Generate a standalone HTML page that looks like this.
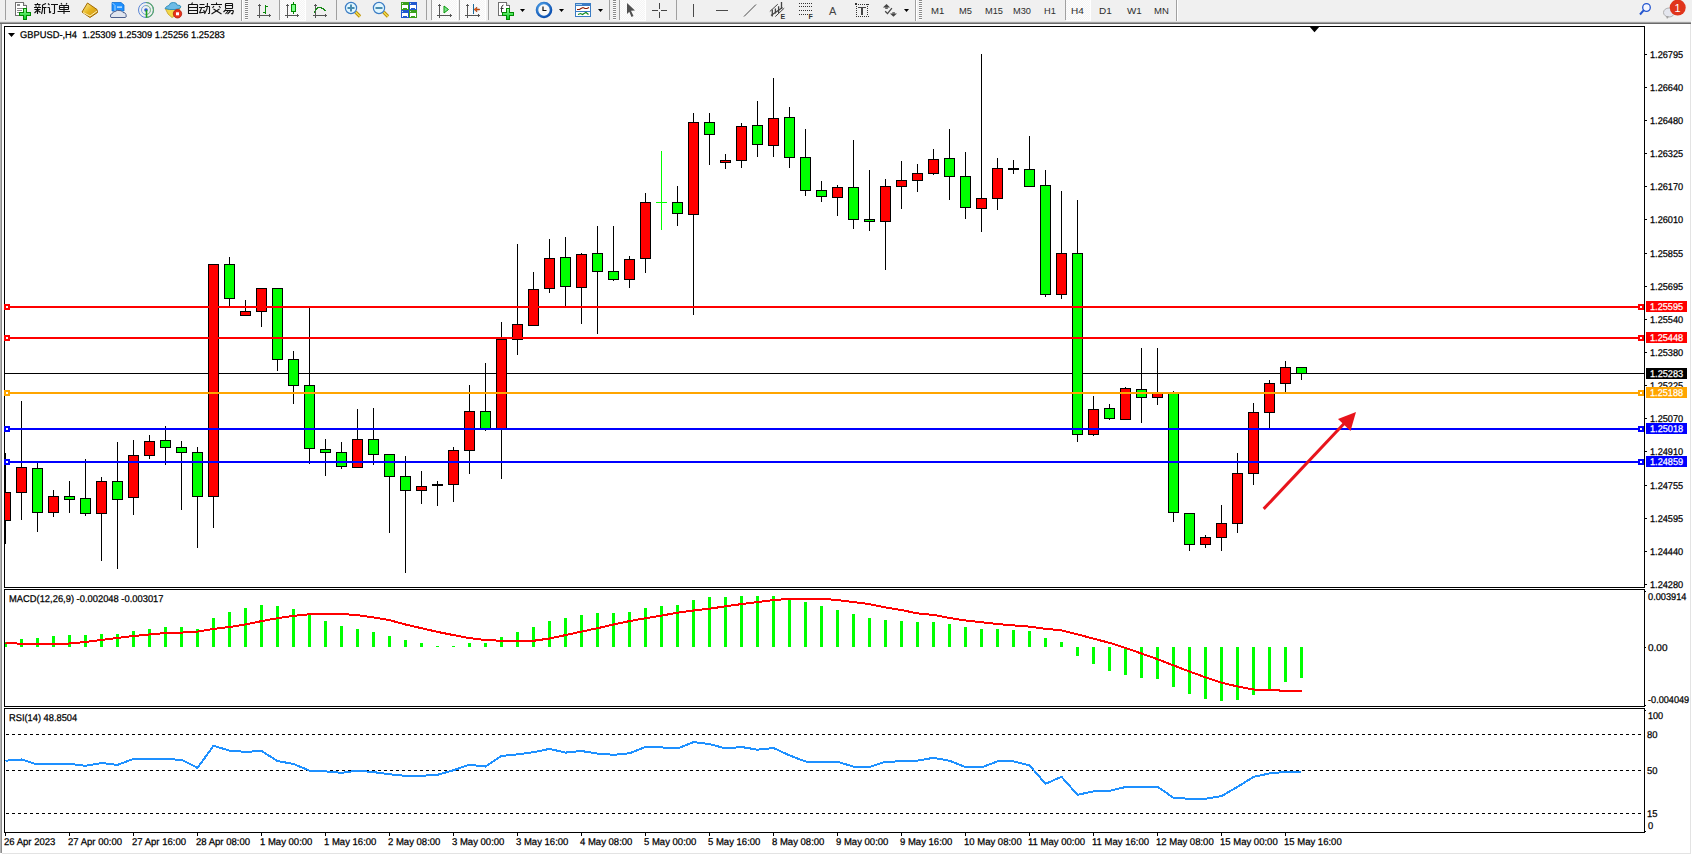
<!DOCTYPE html>
<html><head><meta charset="utf-8"><title>MT4 GBPUSD H4</title>
<style>
html,body{margin:0;padding:0;background:#fff;overflow:hidden}
#root{position:relative;width:1692px;height:855px;overflow:hidden;background:#fff;font-family:"Liberation Sans", sans-serif}
svg text{font-family:"Liberation Sans", sans-serif}
</style></head><body><div id="root">
<svg width="1692" height="855" viewBox="0 0 1692 855" style="position:absolute;left:0;top:0" shape-rendering="crispEdges">
<defs><clipPath id="cm"><rect x="5" y="27" width="1639" height="560"/></clipPath><clipPath id="cmacd"><rect x="5" y="590" width="1639" height="116"/></clipPath><clipPath id="crsi"><rect x="5" y="709" width="1639" height="123"/></clipPath></defs>
<rect x="0" y="24" width="1" height="829" fill="#b4b4b4"/>
<rect x="1" y="24" width="1" height="829" fill="#8c8c8c"/>
<rect x="2" y="853" width="1689" height="1" fill="#e3e3e3"/>
<rect x="1690" y="24" width="1" height="830" fill="#e3e3e3"/>
<rect x="4" y="26" width="1641" height="1" fill="#000"/>
<rect x="4" y="587" width="1641" height="1" fill="#000"/>
<rect x="4" y="26" width="1" height="562" fill="#000"/>
<rect x="1644" y="26" width="1" height="562" fill="#000"/>
<rect x="4" y="589" width="1641" height="1" fill="#000"/>
<rect x="4" y="706" width="1641" height="1" fill="#000"/>
<rect x="4" y="589" width="1" height="118" fill="#000"/>
<rect x="1644" y="589" width="1" height="118" fill="#000"/>
<rect x="4" y="708" width="1641" height="1" fill="#000"/>
<rect x="4" y="832" width="1641" height="1" fill="#000"/>
<rect x="4" y="708" width="1" height="125" fill="#000"/>
<rect x="1644" y="708" width="1" height="125" fill="#000"/>
<g clip-path="url(#cm)">
<rect x="5" y="373" width="1639" height="1" fill="#000"/>
<rect x="5" y="453" width="1" height="91" fill="#000"/>
<rect x="0" y="492" width="11" height="29" fill="#000"/>
<rect x="1" y="493" width="9" height="27" fill="#ff0000"/>
<rect x="21" y="401" width="1" height="119" fill="#000"/>
<rect x="16" y="467" width="11" height="26" fill="#000"/>
<rect x="17" y="468" width="9" height="24" fill="#ff0000"/>
<rect x="37" y="463" width="1" height="69" fill="#000"/>
<rect x="32" y="468" width="11" height="45" fill="#000"/>
<rect x="33" y="469" width="9" height="43" fill="#00ff00"/>
<rect x="53" y="490" width="1" height="27" fill="#000"/>
<rect x="48" y="496" width="11" height="17" fill="#000"/>
<rect x="49" y="497" width="9" height="15" fill="#ff0000"/>
<rect x="69" y="481" width="1" height="32" fill="#000"/>
<rect x="64" y="496" width="11" height="4" fill="#000"/>
<rect x="65" y="497" width="9" height="2" fill="#00ff00"/>
<rect x="85" y="459" width="1" height="57" fill="#000"/>
<rect x="80" y="498" width="11" height="16" fill="#000"/>
<rect x="81" y="499" width="9" height="14" fill="#00ff00"/>
<rect x="101" y="477" width="1" height="84" fill="#000"/>
<rect x="96" y="481" width="11" height="33" fill="#000"/>
<rect x="97" y="482" width="9" height="31" fill="#ff0000"/>
<rect x="117" y="442" width="1" height="127" fill="#000"/>
<rect x="112" y="481" width="11" height="19" fill="#000"/>
<rect x="113" y="482" width="9" height="17" fill="#00ff00"/>
<rect x="133" y="440" width="1" height="75" fill="#000"/>
<rect x="128" y="455" width="11" height="43" fill="#000"/>
<rect x="129" y="456" width="9" height="41" fill="#ff0000"/>
<rect x="149" y="435" width="1" height="24" fill="#000"/>
<rect x="144" y="441" width="11" height="15" fill="#000"/>
<rect x="145" y="442" width="9" height="13" fill="#ff0000"/>
<rect x="165" y="426" width="1" height="39" fill="#000"/>
<rect x="160" y="440" width="11" height="8" fill="#000"/>
<rect x="161" y="441" width="9" height="6" fill="#00ff00"/>
<rect x="181" y="441" width="1" height="69" fill="#000"/>
<rect x="176" y="447" width="11" height="6" fill="#000"/>
<rect x="177" y="448" width="9" height="4" fill="#00ff00"/>
<rect x="197" y="447" width="1" height="101" fill="#000"/>
<rect x="192" y="452" width="11" height="45" fill="#000"/>
<rect x="193" y="453" width="9" height="43" fill="#00ff00"/>
<rect x="213" y="264" width="1" height="264" fill="#000"/>
<rect x="208" y="264" width="11" height="233" fill="#000"/>
<rect x="209" y="265" width="9" height="231" fill="#ff0000"/>
<rect x="229" y="257" width="1" height="50" fill="#000"/>
<rect x="224" y="264" width="11" height="35" fill="#000"/>
<rect x="225" y="265" width="9" height="33" fill="#00ff00"/>
<rect x="245" y="300" width="1" height="16" fill="#000"/>
<rect x="240" y="311" width="11" height="5" fill="#000"/>
<rect x="241" y="312" width="9" height="3" fill="#ff0000"/>
<rect x="261" y="288" width="1" height="39" fill="#000"/>
<rect x="256" y="288" width="11" height="24" fill="#000"/>
<rect x="257" y="289" width="9" height="22" fill="#ff0000"/>
<rect x="277" y="288" width="1" height="83" fill="#000"/>
<rect x="272" y="288" width="11" height="72" fill="#000"/>
<rect x="273" y="289" width="9" height="70" fill="#00ff00"/>
<rect x="293" y="351" width="1" height="53" fill="#000"/>
<rect x="288" y="359" width="11" height="27" fill="#000"/>
<rect x="289" y="360" width="9" height="25" fill="#00ff00"/>
<rect x="309" y="308" width="1" height="156" fill="#000"/>
<rect x="304" y="385" width="11" height="64" fill="#000"/>
<rect x="305" y="386" width="9" height="62" fill="#00ff00"/>
<rect x="325" y="439" width="1" height="37" fill="#000"/>
<rect x="320" y="449" width="11" height="4" fill="#000"/>
<rect x="321" y="450" width="9" height="2" fill="#00ff00"/>
<rect x="341" y="442" width="1" height="27" fill="#000"/>
<rect x="336" y="452" width="11" height="15" fill="#000"/>
<rect x="337" y="453" width="9" height="13" fill="#00ff00"/>
<rect x="357" y="409" width="1" height="59" fill="#000"/>
<rect x="352" y="439" width="11" height="29" fill="#000"/>
<rect x="353" y="440" width="9" height="27" fill="#ff0000"/>
<rect x="373" y="408" width="1" height="57" fill="#000"/>
<rect x="368" y="439" width="11" height="16" fill="#000"/>
<rect x="369" y="440" width="9" height="14" fill="#00ff00"/>
<rect x="389" y="454" width="1" height="79" fill="#000"/>
<rect x="384" y="454" width="11" height="23" fill="#000"/>
<rect x="385" y="455" width="9" height="21" fill="#00ff00"/>
<rect x="405" y="456" width="1" height="117" fill="#000"/>
<rect x="400" y="476" width="11" height="15" fill="#000"/>
<rect x="401" y="477" width="9" height="13" fill="#00ff00"/>
<rect x="421" y="471" width="1" height="33" fill="#000"/>
<rect x="416" y="486" width="11" height="5" fill="#000"/>
<rect x="417" y="487" width="9" height="3" fill="#ff0000"/>
<rect x="437" y="481" width="1" height="25" fill="#000"/>
<rect x="432" y="484" width="11" height="2" fill="#000"/>
<rect x="453" y="447" width="1" height="55" fill="#000"/>
<rect x="448" y="450" width="11" height="35" fill="#000"/>
<rect x="449" y="451" width="9" height="33" fill="#ff0000"/>
<rect x="469" y="385" width="1" height="89" fill="#000"/>
<rect x="464" y="411" width="11" height="40" fill="#000"/>
<rect x="465" y="412" width="9" height="38" fill="#ff0000"/>
<rect x="485" y="363" width="1" height="68" fill="#000"/>
<rect x="480" y="411" width="11" height="18" fill="#000"/>
<rect x="481" y="412" width="9" height="16" fill="#00ff00"/>
<rect x="501" y="322" width="1" height="157" fill="#000"/>
<rect x="496" y="339" width="11" height="90" fill="#000"/>
<rect x="497" y="340" width="9" height="88" fill="#ff0000"/>
<rect x="517" y="244" width="1" height="111" fill="#000"/>
<rect x="512" y="324" width="11" height="16" fill="#000"/>
<rect x="513" y="325" width="9" height="14" fill="#ff0000"/>
<rect x="533" y="272" width="1" height="54" fill="#000"/>
<rect x="528" y="289" width="11" height="37" fill="#000"/>
<rect x="529" y="290" width="9" height="35" fill="#ff0000"/>
<rect x="549" y="239" width="1" height="54" fill="#000"/>
<rect x="544" y="258" width="11" height="31" fill="#000"/>
<rect x="545" y="259" width="9" height="29" fill="#ff0000"/>
<rect x="565" y="237" width="1" height="70" fill="#000"/>
<rect x="560" y="257" width="11" height="30" fill="#000"/>
<rect x="561" y="258" width="9" height="28" fill="#00ff00"/>
<rect x="581" y="253" width="1" height="71" fill="#000"/>
<rect x="576" y="254" width="11" height="34" fill="#000"/>
<rect x="577" y="255" width="9" height="32" fill="#ff0000"/>
<rect x="597" y="226" width="1" height="108" fill="#000"/>
<rect x="592" y="253" width="11" height="19" fill="#000"/>
<rect x="593" y="254" width="9" height="17" fill="#00ff00"/>
<rect x="613" y="226" width="1" height="55" fill="#000"/>
<rect x="608" y="271" width="11" height="9" fill="#000"/>
<rect x="609" y="272" width="9" height="7" fill="#00ff00"/>
<rect x="629" y="256" width="1" height="32" fill="#000"/>
<rect x="624" y="259" width="11" height="21" fill="#000"/>
<rect x="625" y="260" width="9" height="19" fill="#ff0000"/>
<rect x="645" y="193" width="1" height="80" fill="#000"/>
<rect x="640" y="202" width="11" height="57" fill="#000"/>
<rect x="641" y="203" width="9" height="55" fill="#ff0000"/>
<rect x="661" y="151" width="1" height="79" fill="#00ff00"/>
<rect x="656" y="202" width="11" height="1" fill="#00ff00"/>
<rect x="677" y="186" width="1" height="40" fill="#000"/>
<rect x="672" y="202" width="11" height="12" fill="#000"/>
<rect x="673" y="203" width="9" height="10" fill="#00ff00"/>
<rect x="693" y="113" width="1" height="202" fill="#000"/>
<rect x="688" y="122" width="11" height="93" fill="#000"/>
<rect x="689" y="123" width="9" height="91" fill="#ff0000"/>
<rect x="709" y="113" width="1" height="52" fill="#000"/>
<rect x="704" y="122" width="11" height="13" fill="#000"/>
<rect x="705" y="123" width="9" height="11" fill="#00ff00"/>
<rect x="725" y="154" width="1" height="15" fill="#000"/>
<rect x="720" y="160" width="11" height="3" fill="#000"/>
<rect x="721" y="161" width="9" height="1" fill="#ff0000"/>
<rect x="741" y="123" width="1" height="45" fill="#000"/>
<rect x="736" y="126" width="11" height="35" fill="#000"/>
<rect x="737" y="127" width="9" height="33" fill="#ff0000"/>
<rect x="757" y="101" width="1" height="56" fill="#000"/>
<rect x="752" y="125" width="11" height="20" fill="#000"/>
<rect x="753" y="126" width="9" height="18" fill="#00ff00"/>
<rect x="773" y="78" width="1" height="79" fill="#000"/>
<rect x="768" y="118" width="11" height="28" fill="#000"/>
<rect x="769" y="119" width="9" height="26" fill="#ff0000"/>
<rect x="789" y="107" width="1" height="61" fill="#000"/>
<rect x="784" y="117" width="11" height="41" fill="#000"/>
<rect x="785" y="118" width="9" height="39" fill="#00ff00"/>
<rect x="805" y="129" width="1" height="67" fill="#000"/>
<rect x="800" y="157" width="11" height="34" fill="#000"/>
<rect x="801" y="158" width="9" height="32" fill="#00ff00"/>
<rect x="821" y="181" width="1" height="21" fill="#000"/>
<rect x="816" y="190" width="11" height="7" fill="#000"/>
<rect x="817" y="191" width="9" height="5" fill="#00ff00"/>
<rect x="837" y="185" width="1" height="31" fill="#000"/>
<rect x="832" y="187" width="11" height="11" fill="#000"/>
<rect x="833" y="188" width="9" height="9" fill="#ff0000"/>
<rect x="853" y="140" width="1" height="89" fill="#000"/>
<rect x="848" y="187" width="11" height="33" fill="#000"/>
<rect x="849" y="188" width="9" height="31" fill="#00ff00"/>
<rect x="869" y="170" width="1" height="61" fill="#000"/>
<rect x="864" y="219" width="11" height="3" fill="#000"/>
<rect x="865" y="220" width="9" height="1" fill="#00ff00"/>
<rect x="885" y="179" width="1" height="91" fill="#000"/>
<rect x="880" y="186" width="11" height="36" fill="#000"/>
<rect x="881" y="187" width="9" height="34" fill="#ff0000"/>
<rect x="901" y="161" width="1" height="48" fill="#000"/>
<rect x="896" y="180" width="11" height="7" fill="#000"/>
<rect x="897" y="181" width="9" height="5" fill="#ff0000"/>
<rect x="917" y="164" width="1" height="28" fill="#000"/>
<rect x="912" y="173" width="11" height="8" fill="#000"/>
<rect x="913" y="174" width="9" height="6" fill="#ff0000"/>
<rect x="933" y="149" width="1" height="26" fill="#000"/>
<rect x="928" y="159" width="11" height="15" fill="#000"/>
<rect x="929" y="160" width="9" height="13" fill="#ff0000"/>
<rect x="949" y="129" width="1" height="71" fill="#000"/>
<rect x="944" y="158" width="11" height="19" fill="#000"/>
<rect x="945" y="159" width="9" height="17" fill="#00ff00"/>
<rect x="965" y="152" width="1" height="67" fill="#000"/>
<rect x="960" y="176" width="11" height="32" fill="#000"/>
<rect x="961" y="177" width="9" height="30" fill="#00ff00"/>
<rect x="981" y="54" width="1" height="178" fill="#000"/>
<rect x="976" y="198" width="11" height="11" fill="#000"/>
<rect x="977" y="199" width="9" height="9" fill="#ff0000"/>
<rect x="997" y="158" width="1" height="52" fill="#000"/>
<rect x="992" y="168" width="11" height="31" fill="#000"/>
<rect x="993" y="169" width="9" height="29" fill="#ff0000"/>
<rect x="1013" y="160" width="1" height="14" fill="#000"/>
<rect x="1008" y="168" width="11" height="2" fill="#000"/>
<rect x="1029" y="136" width="1" height="51" fill="#000"/>
<rect x="1024" y="169" width="11" height="18" fill="#000"/>
<rect x="1025" y="170" width="9" height="16" fill="#00ff00"/>
<rect x="1045" y="170" width="1" height="127" fill="#000"/>
<rect x="1040" y="185" width="11" height="110" fill="#000"/>
<rect x="1041" y="186" width="9" height="108" fill="#00ff00"/>
<rect x="1061" y="191" width="1" height="108" fill="#000"/>
<rect x="1056" y="253" width="11" height="42" fill="#000"/>
<rect x="1057" y="254" width="9" height="40" fill="#ff0000"/>
<rect x="1077" y="200" width="1" height="242" fill="#000"/>
<rect x="1072" y="253" width="11" height="182" fill="#000"/>
<rect x="1073" y="254" width="9" height="180" fill="#00ff00"/>
<rect x="1093" y="396" width="1" height="40" fill="#000"/>
<rect x="1088" y="409" width="11" height="26" fill="#000"/>
<rect x="1089" y="410" width="9" height="24" fill="#ff0000"/>
<rect x="1109" y="404" width="1" height="16" fill="#000"/>
<rect x="1104" y="408" width="11" height="11" fill="#000"/>
<rect x="1105" y="409" width="9" height="9" fill="#00ff00"/>
<rect x="1125" y="387" width="1" height="33" fill="#000"/>
<rect x="1120" y="388" width="11" height="32" fill="#000"/>
<rect x="1121" y="389" width="9" height="30" fill="#ff0000"/>
<rect x="1141" y="348" width="1" height="75" fill="#000"/>
<rect x="1136" y="389" width="11" height="9" fill="#000"/>
<rect x="1137" y="390" width="9" height="7" fill="#00ff00"/>
<rect x="1157" y="348" width="1" height="57" fill="#000"/>
<rect x="1152" y="392" width="11" height="6" fill="#000"/>
<rect x="1153" y="393" width="9" height="4" fill="#ff0000"/>
<rect x="1173" y="391" width="1" height="131" fill="#000"/>
<rect x="1168" y="393" width="11" height="120" fill="#000"/>
<rect x="1169" y="394" width="9" height="118" fill="#00ff00"/>
<rect x="1189" y="513" width="1" height="38" fill="#000"/>
<rect x="1184" y="513" width="11" height="32" fill="#000"/>
<rect x="1185" y="514" width="9" height="30" fill="#00ff00"/>
<rect x="1205" y="535" width="1" height="13" fill="#000"/>
<rect x="1200" y="537" width="11" height="8" fill="#000"/>
<rect x="1201" y="538" width="9" height="6" fill="#ff0000"/>
<rect x="1221" y="505" width="1" height="46" fill="#000"/>
<rect x="1216" y="523" width="11" height="15" fill="#000"/>
<rect x="1217" y="524" width="9" height="13" fill="#ff0000"/>
<rect x="1237" y="453" width="1" height="80" fill="#000"/>
<rect x="1232" y="473" width="11" height="51" fill="#000"/>
<rect x="1233" y="474" width="9" height="49" fill="#ff0000"/>
<rect x="1253" y="403" width="1" height="82" fill="#000"/>
<rect x="1248" y="412" width="11" height="62" fill="#000"/>
<rect x="1249" y="413" width="9" height="60" fill="#ff0000"/>
<rect x="1269" y="380" width="1" height="49" fill="#000"/>
<rect x="1264" y="383" width="11" height="30" fill="#000"/>
<rect x="1265" y="384" width="9" height="28" fill="#ff0000"/>
<rect x="1285" y="361" width="1" height="32" fill="#000"/>
<rect x="1280" y="367" width="11" height="17" fill="#000"/>
<rect x="1281" y="368" width="9" height="15" fill="#ff0000"/>
<rect x="1301" y="367" width="1" height="13" fill="#000"/>
<rect x="1296" y="367" width="11" height="7" fill="#000"/>
<rect x="1297" y="368" width="9" height="5" fill="#00ff00"/>
</g>
<rect x="5" y="306" width="1639" height="2" fill="#ff0000"/>
<rect x="4" y="304" width="6" height="6" fill="#ff0000"/>
<rect x="6" y="306" width="2" height="2" fill="#fff"/>
<rect x="1638" y="304" width="6" height="6" fill="#ff0000"/>
<rect x="1640" y="306" width="2" height="2" fill="#fff"/>
<rect x="5" y="337" width="1639" height="2" fill="#ff0000"/>
<rect x="4" y="335" width="6" height="6" fill="#ff0000"/>
<rect x="6" y="337" width="2" height="2" fill="#fff"/>
<rect x="1638" y="335" width="6" height="6" fill="#ff0000"/>
<rect x="1640" y="337" width="2" height="2" fill="#fff"/>
<rect x="5" y="392" width="1639" height="2" fill="#ffa500"/>
<rect x="4" y="390" width="6" height="6" fill="#ffa500"/>
<rect x="6" y="392" width="2" height="2" fill="#fff"/>
<rect x="1638" y="390" width="6" height="6" fill="#ffa500"/>
<rect x="1640" y="392" width="2" height="2" fill="#fff"/>
<rect x="5" y="428" width="1639" height="2" fill="#0000ff"/>
<rect x="4" y="426" width="6" height="6" fill="#0000ff"/>
<rect x="6" y="428" width="2" height="2" fill="#fff"/>
<rect x="1638" y="426" width="6" height="6" fill="#0000ff"/>
<rect x="1640" y="428" width="2" height="2" fill="#fff"/>
<rect x="5" y="461" width="1639" height="2" fill="#0000ff"/>
<rect x="4" y="459" width="6" height="6" fill="#0000ff"/>
<rect x="6" y="461" width="2" height="2" fill="#fff"/>
<rect x="1638" y="459" width="6" height="6" fill="#0000ff"/>
<rect x="1640" y="461" width="2" height="2" fill="#fff"/>
<polygon points="1309,26 1320,26 1314.5,32.2" fill="#000" shape-rendering="auto"/>
<g shape-rendering="auto"><line x1="1263.7" y1="508.9" x2="1346" y2="421.5" stroke="#e8141c" stroke-width="3"/><polygon points="1356,412 1338,419 1350.5,431" fill="#e8141c"/></g>
<g clip-path="url(#cmacd)">
<rect x="4" y="642" width="3" height="5" fill="#00ff00"/>
<rect x="20" y="639" width="3" height="8" fill="#00ff00"/>
<rect x="36" y="638" width="3" height="9" fill="#00ff00"/>
<rect x="52" y="636" width="3" height="11" fill="#00ff00"/>
<rect x="68" y="635" width="3" height="12" fill="#00ff00"/>
<rect x="84" y="635" width="3" height="12" fill="#00ff00"/>
<rect x="100" y="634" width="3" height="13" fill="#00ff00"/>
<rect x="116" y="634" width="3" height="13" fill="#00ff00"/>
<rect x="132" y="631" width="3" height="16" fill="#00ff00"/>
<rect x="148" y="629" width="3" height="18" fill="#00ff00"/>
<rect x="164" y="627" width="3" height="20" fill="#00ff00"/>
<rect x="180" y="627" width="3" height="20" fill="#00ff00"/>
<rect x="196" y="629" width="3" height="18" fill="#00ff00"/>
<rect x="212" y="618" width="3" height="29" fill="#00ff00"/>
<rect x="228" y="612" width="3" height="35" fill="#00ff00"/>
<rect x="244" y="608" width="3" height="39" fill="#00ff00"/>
<rect x="260" y="605" width="3" height="42" fill="#00ff00"/>
<rect x="276" y="606" width="3" height="41" fill="#00ff00"/>
<rect x="292" y="609" width="3" height="38" fill="#00ff00"/>
<rect x="308" y="615" width="3" height="32" fill="#00ff00"/>
<rect x="324" y="621" width="3" height="26" fill="#00ff00"/>
<rect x="340" y="626" width="3" height="21" fill="#00ff00"/>
<rect x="356" y="629" width="3" height="18" fill="#00ff00"/>
<rect x="372" y="632" width="3" height="15" fill="#00ff00"/>
<rect x="388" y="636" width="3" height="11" fill="#00ff00"/>
<rect x="404" y="640" width="3" height="7" fill="#00ff00"/>
<rect x="420" y="643" width="3" height="4" fill="#00ff00"/>
<rect x="436" y="646" width="3" height="1" fill="#00ff00"/>
<rect x="452" y="646" width="3" height="1" fill="#00ff00"/>
<rect x="468" y="643" width="3" height="4" fill="#00ff00"/>
<rect x="484" y="643" width="3" height="4" fill="#00ff00"/>
<rect x="500" y="637" width="3" height="10" fill="#00ff00"/>
<rect x="516" y="632" width="3" height="15" fill="#00ff00"/>
<rect x="532" y="627" width="3" height="20" fill="#00ff00"/>
<rect x="548" y="621" width="3" height="26" fill="#00ff00"/>
<rect x="564" y="618" width="3" height="29" fill="#00ff00"/>
<rect x="580" y="615" width="3" height="32" fill="#00ff00"/>
<rect x="596" y="613" width="3" height="34" fill="#00ff00"/>
<rect x="612" y="613" width="3" height="34" fill="#00ff00"/>
<rect x="628" y="612" width="3" height="35" fill="#00ff00"/>
<rect x="644" y="608" width="3" height="39" fill="#00ff00"/>
<rect x="660" y="606" width="3" height="41" fill="#00ff00"/>
<rect x="676" y="605" width="3" height="42" fill="#00ff00"/>
<rect x="692" y="600" width="3" height="47" fill="#00ff00"/>
<rect x="708" y="597" width="3" height="50" fill="#00ff00"/>
<rect x="724" y="597" width="3" height="50" fill="#00ff00"/>
<rect x="740" y="596" width="3" height="51" fill="#00ff00"/>
<rect x="756" y="596" width="3" height="51" fill="#00ff00"/>
<rect x="772" y="596" width="3" height="51" fill="#00ff00"/>
<rect x="788" y="598" width="3" height="49" fill="#00ff00"/>
<rect x="804" y="602" width="3" height="45" fill="#00ff00"/>
<rect x="820" y="606" width="3" height="41" fill="#00ff00"/>
<rect x="836" y="610" width="3" height="37" fill="#00ff00"/>
<rect x="852" y="614" width="3" height="33" fill="#00ff00"/>
<rect x="868" y="618" width="3" height="29" fill="#00ff00"/>
<rect x="884" y="620" width="3" height="27" fill="#00ff00"/>
<rect x="900" y="621" width="3" height="26" fill="#00ff00"/>
<rect x="916" y="622" width="3" height="25" fill="#00ff00"/>
<rect x="932" y="622" width="3" height="25" fill="#00ff00"/>
<rect x="948" y="624" width="3" height="23" fill="#00ff00"/>
<rect x="964" y="627" width="3" height="20" fill="#00ff00"/>
<rect x="980" y="629" width="3" height="18" fill="#00ff00"/>
<rect x="996" y="629" width="3" height="18" fill="#00ff00"/>
<rect x="1012" y="630" width="3" height="17" fill="#00ff00"/>
<rect x="1028" y="631" width="3" height="16" fill="#00ff00"/>
<rect x="1044" y="638" width="3" height="9" fill="#00ff00"/>
<rect x="1060" y="642" width="3" height="5" fill="#00ff00"/>
<rect x="1076" y="647" width="3" height="9" fill="#00ff00"/>
<rect x="1092" y="647" width="3" height="17" fill="#00ff00"/>
<rect x="1108" y="647" width="3" height="24" fill="#00ff00"/>
<rect x="1124" y="647" width="3" height="28" fill="#00ff00"/>
<rect x="1140" y="647" width="3" height="31" fill="#00ff00"/>
<rect x="1156" y="647" width="3" height="32" fill="#00ff00"/>
<rect x="1172" y="647" width="3" height="40" fill="#00ff00"/>
<rect x="1188" y="647" width="3" height="47" fill="#00ff00"/>
<rect x="1204" y="647" width="3" height="52" fill="#00ff00"/>
<rect x="1220" y="647" width="3" height="54" fill="#00ff00"/>
<rect x="1236" y="647" width="3" height="53" fill="#00ff00"/>
<rect x="1252" y="647" width="3" height="48" fill="#00ff00"/>
<rect x="1268" y="647" width="3" height="42" fill="#00ff00"/>
<rect x="1284" y="647" width="3" height="35" fill="#00ff00"/>
<rect x="1300" y="647" width="3" height="31" fill="#00ff00"/>
<polyline points="5.5,643 21.5,643.7 37.5,644 53.5,644 69.5,643.5 85.5,642 101.5,640 117.5,638 133.5,636 149.5,634.5 165.5,633 181.5,632.6 197.5,631.6 213.5,629 229.5,627 245.5,624.5 261.5,621.1 277.5,618.2 293.5,615.9 309.5,614.2 325.5,613.9 341.5,613.9 357.5,615.2 373.5,617.4 389.5,620.1 405.5,624.5 421.5,628.2 437.5,631.9 453.5,635.1 469.5,638.1 485.5,640 501.5,640.8 517.5,640.8 533.5,640.8 549.5,638.5 565.5,635.1 581.5,631.6 597.5,628.2 613.5,624.5 629.5,621.1 645.5,618.2 661.5,615.6 677.5,612.7 693.5,610.5 709.5,608.7 725.5,606.3 741.5,604.1 757.5,602 773.5,600.1 789.5,598.9 805.5,598.6 821.5,598.6 837.5,600.1 853.5,602 869.5,604.1 885.5,607.5 901.5,610 917.5,613.4 933.5,614.9 949.5,617.9 965.5,620.5 981.5,622.2 997.5,624 1013.5,625.4 1029.5,626.6 1045.5,628.8 1061.5,630.3 1077.5,634.3 1093.5,638.7 1109.5,642.8 1125.5,648 1141.5,653.5 1157.5,659.2 1173.5,665.4 1189.5,671.5 1205.5,677.3 1221.5,682.7 1237.5,686.4 1253.5,689.5 1269.5,690.2 1285.5,690.7 1301.5,690.7" fill="none" stroke="#ff0000" stroke-width="2"/>
</g>
<g clip-path="url(#crsi)">
<line x1="6" y1="734.5" x2="1642" y2="734.5" stroke="#000" stroke-width="1" stroke-dasharray="3 3"/>
<line x1="6" y1="770.5" x2="1642" y2="770.5" stroke="#000" stroke-width="1" stroke-dasharray="3 3"/>
<line x1="6" y1="813.5" x2="1642" y2="813.5" stroke="#000" stroke-width="1" stroke-dasharray="3 3"/>
<polyline points="5.5,760.7 21.5,759.5 37.5,764.5 53.5,763.8 69.5,763.8 85.5,765.8 101.5,763 117.5,764.9 133.5,758.9 149.5,758.9 165.5,759.2 181.5,759.7 197.5,767.9 213.5,745.8 229.5,750.6 245.5,751.9 261.5,751 277.5,761 293.5,764 309.5,770.6 325.5,771.4 341.5,772.8 357.5,770.6 373.5,772.1 389.5,774.3 405.5,775.8 421.5,775.8 437.5,774.8 453.5,770.2 469.5,764.7 485.5,766.6 501.5,755.9 517.5,754.4 533.5,752.2 549.5,748.9 565.5,752.6 581.5,751 597.5,753.6 613.5,754.8 629.5,753.3 645.5,747 661.5,747.4 677.5,748.5 693.5,742.1 709.5,744 725.5,748.5 741.5,747 757.5,749.7 773.5,748 789.5,755.4 805.5,761.5 821.5,761.8 837.5,761.8 853.5,766.6 869.5,766.9 885.5,761.8 901.5,761.3 917.5,760.6 933.5,757.8 949.5,760.7 965.5,767.2 981.5,767.5 997.5,761.3 1013.5,761.3 1029.5,765.3 1045.5,783.8 1061.5,776.8 1077.5,794.8 1093.5,791.4 1109.5,790.9 1125.5,787 1141.5,787 1157.5,786.7 1173.5,797.8 1189.5,798.8 1205.5,798.8 1221.5,796.1 1237.5,786.9 1253.5,776.9 1269.5,773.4 1285.5,771.9 1301.5,772" fill="none" stroke="#1e90ff" stroke-width="2"/>
</g>
<rect x="1645" y="54" width="2" height="1" fill="#000"/>
<rect x="1645" y="87" width="2" height="1" fill="#000"/>
<rect x="1645" y="120" width="2" height="1" fill="#000"/>
<rect x="1645" y="153" width="2" height="1" fill="#000"/>
<rect x="1645" y="186" width="2" height="1" fill="#000"/>
<rect x="1645" y="219" width="2" height="1" fill="#000"/>
<rect x="1645" y="253" width="2" height="1" fill="#000"/>
<rect x="1645" y="286" width="2" height="1" fill="#000"/>
<rect x="1645" y="319" width="2" height="1" fill="#000"/>
<rect x="1645" y="352" width="2" height="1" fill="#000"/>
<rect x="1645" y="385" width="2" height="1" fill="#000"/>
<rect x="1645" y="418" width="2" height="1" fill="#000"/>
<rect x="1645" y="451" width="2" height="1" fill="#000"/>
<rect x="1645" y="485" width="2" height="1" fill="#000"/>
<rect x="1645" y="518" width="2" height="1" fill="#000"/>
<rect x="1645" y="551" width="2" height="1" fill="#000"/>
<rect x="1645" y="584" width="2" height="1" fill="#000"/>
<rect x="1645" y="591" width="1" height="1" fill="#000"/>
<rect x="1645" y="647" width="1" height="1" fill="#000"/>
<rect x="1645" y="705" width="1" height="1" fill="#000"/>
<rect x="1645" y="710" width="1" height="1" fill="#000"/><rect x="1645" y="831" width="1" height="1" fill="#000"/>
<rect x="5" y="833" width="1" height="3" fill="#000"/>
<rect x="69" y="833" width="1" height="3" fill="#000"/>
<rect x="133" y="833" width="1" height="3" fill="#000"/>
<rect x="197" y="833" width="1" height="3" fill="#000"/>
<rect x="261" y="833" width="1" height="3" fill="#000"/>
<rect x="325" y="833" width="1" height="3" fill="#000"/>
<rect x="389" y="833" width="1" height="3" fill="#000"/>
<rect x="453" y="833" width="1" height="3" fill="#000"/>
<rect x="517" y="833" width="1" height="3" fill="#000"/>
<rect x="581" y="833" width="1" height="3" fill="#000"/>
<rect x="645" y="833" width="1" height="3" fill="#000"/>
<rect x="709" y="833" width="1" height="3" fill="#000"/>
<rect x="773" y="833" width="1" height="3" fill="#000"/>
<rect x="837" y="833" width="1" height="3" fill="#000"/>
<rect x="901" y="833" width="1" height="3" fill="#000"/>
<rect x="965" y="833" width="1" height="3" fill="#000"/>
<rect x="1029" y="833" width="1" height="3" fill="#000"/>
<rect x="1093" y="833" width="1" height="3" fill="#000"/>
<rect x="1157" y="833" width="1" height="3" fill="#000"/>
<rect x="1221" y="833" width="1" height="3" fill="#000"/>
<rect x="1285" y="833" width="1" height="3" fill="#000"/>
<svg width="1692" height="855" style="position:absolute;left:0;top:0" font-family='"Liberation Sans", sans-serif'><text x="1650" y="58" fill="#000" stroke="#000" stroke-width="0.25" font-size="9.8" text-rendering="geometricPrecision" textLength="33.2" lengthAdjust="spacingAndGlyphs" >1.26795</text><text x="1650" y="91" fill="#000" stroke="#000" stroke-width="0.25" font-size="9.8" text-rendering="geometricPrecision" textLength="33.2" lengthAdjust="spacingAndGlyphs" >1.26640</text><text x="1650" y="124" fill="#000" stroke="#000" stroke-width="0.25" font-size="9.8" text-rendering="geometricPrecision" textLength="33.2" lengthAdjust="spacingAndGlyphs" >1.26480</text><text x="1650" y="157" fill="#000" stroke="#000" stroke-width="0.25" font-size="9.8" text-rendering="geometricPrecision" textLength="33.2" lengthAdjust="spacingAndGlyphs" >1.26325</text><text x="1650" y="190" fill="#000" stroke="#000" stroke-width="0.25" font-size="9.8" text-rendering="geometricPrecision" textLength="33.2" lengthAdjust="spacingAndGlyphs" >1.26170</text><text x="1650" y="223" fill="#000" stroke="#000" stroke-width="0.25" font-size="9.8" text-rendering="geometricPrecision" textLength="33.2" lengthAdjust="spacingAndGlyphs" >1.26010</text><text x="1650" y="257" fill="#000" stroke="#000" stroke-width="0.25" font-size="9.8" text-rendering="geometricPrecision" textLength="33.2" lengthAdjust="spacingAndGlyphs" >1.25855</text><text x="1650" y="290" fill="#000" stroke="#000" stroke-width="0.25" font-size="9.8" text-rendering="geometricPrecision" textLength="33.2" lengthAdjust="spacingAndGlyphs" >1.25695</text><text x="1650" y="323" fill="#000" stroke="#000" stroke-width="0.25" font-size="9.8" text-rendering="geometricPrecision" textLength="33.2" lengthAdjust="spacingAndGlyphs" >1.25540</text><text x="1650" y="356" fill="#000" stroke="#000" stroke-width="0.25" font-size="9.8" text-rendering="geometricPrecision" textLength="33.2" lengthAdjust="spacingAndGlyphs" >1.25380</text><text x="1650" y="389" fill="#000" stroke="#000" stroke-width="0.25" font-size="9.8" text-rendering="geometricPrecision" textLength="33.2" lengthAdjust="spacingAndGlyphs" >1.25225</text><text x="1650" y="422" fill="#000" stroke="#000" stroke-width="0.25" font-size="9.8" text-rendering="geometricPrecision" textLength="33.2" lengthAdjust="spacingAndGlyphs" >1.25070</text><text x="1650" y="455" fill="#000" stroke="#000" stroke-width="0.25" font-size="9.8" text-rendering="geometricPrecision" textLength="33.2" lengthAdjust="spacingAndGlyphs" >1.24910</text><text x="1650" y="489" fill="#000" stroke="#000" stroke-width="0.25" font-size="9.8" text-rendering="geometricPrecision" textLength="33.2" lengthAdjust="spacingAndGlyphs" >1.24755</text><text x="1650" y="522" fill="#000" stroke="#000" stroke-width="0.25" font-size="9.8" text-rendering="geometricPrecision" textLength="33.2" lengthAdjust="spacingAndGlyphs" >1.24595</text><text x="1650" y="555" fill="#000" stroke="#000" stroke-width="0.25" font-size="9.8" text-rendering="geometricPrecision" textLength="33.2" lengthAdjust="spacingAndGlyphs" >1.24440</text><text x="1650" y="588" fill="#000" stroke="#000" stroke-width="0.25" font-size="9.8" text-rendering="geometricPrecision" textLength="33.2" lengthAdjust="spacingAndGlyphs" >1.24280</text><rect x="1646" y="301" width="41" height="11" fill="#ff0000"/><rect x="1646" y="332" width="41" height="11" fill="#ff0000"/><rect x="1646" y="368" width="41" height="11" fill="#000"/><rect x="1646" y="387" width="41" height="11" fill="#ffa500"/><rect x="1646" y="423" width="41" height="11" fill="#0000ff"/><rect x="1646" y="456" width="41" height="11" fill="#0000ff"/><text x="1650" y="310" fill="#fff" stroke="#fff" stroke-width="0.25" font-size="9.8" text-rendering="geometricPrecision" textLength="33.2" lengthAdjust="spacingAndGlyphs" >1.25595</text><text x="1650" y="341" fill="#fff" stroke="#fff" stroke-width="0.25" font-size="9.8" text-rendering="geometricPrecision" textLength="33.2" lengthAdjust="spacingAndGlyphs" >1.25448</text><text x="1650" y="377" fill="#fff" stroke="#fff" stroke-width="0.25" font-size="9.8" text-rendering="geometricPrecision" textLength="33.2" lengthAdjust="spacingAndGlyphs" >1.25283</text><text x="1650" y="396" fill="#fff" stroke="#fff" stroke-width="0.25" font-size="9.8" text-rendering="geometricPrecision" textLength="33.2" lengthAdjust="spacingAndGlyphs" >1.25188</text><text x="1650" y="432" fill="#fff" stroke="#fff" stroke-width="0.25" font-size="9.8" text-rendering="geometricPrecision" textLength="33.2" lengthAdjust="spacingAndGlyphs" >1.25018</text><text x="1650" y="465" fill="#fff" stroke="#fff" stroke-width="0.25" font-size="9.8" text-rendering="geometricPrecision" textLength="33.2" lengthAdjust="spacingAndGlyphs" >1.24859</text><text x="1648" y="600" fill="#000" stroke="#000" stroke-width="0.25" font-size="9.8" text-rendering="geometricPrecision" textLength="38.5" lengthAdjust="spacingAndGlyphs" >0.003914</text><text x="1648" y="651" fill="#000" stroke="#000" stroke-width="0.25" font-size="9.8" text-rendering="geometricPrecision" textLength="19.5" lengthAdjust="spacingAndGlyphs" >0.00</text><text x="1648" y="703" fill="#000" stroke="#000" stroke-width="0.25" font-size="9.8" text-rendering="geometricPrecision" textLength="41.2" lengthAdjust="spacingAndGlyphs" >-0.004049</text><text x="1648" y="719" fill="#000" stroke="#000" stroke-width="0.25" font-size="9.8" text-rendering="geometricPrecision" textLength="15.2" lengthAdjust="spacingAndGlyphs" >100</text><text x="1647" y="738" fill="#000" stroke="#000" stroke-width="0.25" font-size="9.8" text-rendering="geometricPrecision" textLength="10.5" lengthAdjust="spacingAndGlyphs" >80</text><text x="1647" y="774" fill="#000" stroke="#000" stroke-width="0.25" font-size="9.8" text-rendering="geometricPrecision" textLength="10.5" lengthAdjust="spacingAndGlyphs" >50</text><text x="1647" y="817" fill="#000" stroke="#000" stroke-width="0.25" font-size="9.8" text-rendering="geometricPrecision" textLength="10.5" lengthAdjust="spacingAndGlyphs" >15</text><text x="1648" y="829" fill="#000" stroke="#000" stroke-width="0.25" font-size="9.8" text-rendering="geometricPrecision" textLength="5.2" lengthAdjust="spacingAndGlyphs" >0</text><text x="9" y="602" fill="#000" stroke="#000" stroke-width="0.25" font-size="9.8" text-rendering="geometricPrecision" textLength="154.5" lengthAdjust="spacingAndGlyphs" >MACD(12,26,9) -0.002048 -0.003017</text><text x="9" y="721" fill="#000" stroke="#000" stroke-width="0.25" font-size="9.8" text-rendering="geometricPrecision" textLength="68.2" lengthAdjust="spacingAndGlyphs" >RSI(14) 48.8504</text><text x="20" y="38" fill="#000" stroke="#000" stroke-width="0.25" font-size="9.8" text-rendering="geometricPrecision" textLength="204.8" lengthAdjust="spacingAndGlyphs" >GBPUSD-,H4&#160; 1.25309 1.25309 1.25256 1.25283</text><polygon points="8,33 15,33 11.5,37" fill="#000" shape-rendering="auto"/><text x="4" y="845" fill="#000" stroke="#000" stroke-width="0.25" font-size="9.8" text-rendering="geometricPrecision" textLength="51.35" lengthAdjust="spacingAndGlyphs" >26 Apr 2023</text><text x="68" y="845" fill="#000" stroke="#000" stroke-width="0.25" font-size="9.8" text-rendering="geometricPrecision" textLength="53.99" lengthAdjust="spacingAndGlyphs" >27 Apr 00:00</text><text x="132" y="845" fill="#000" stroke="#000" stroke-width="0.25" font-size="9.8" text-rendering="geometricPrecision" textLength="53.99" lengthAdjust="spacingAndGlyphs" >27 Apr 16:00</text><text x="196" y="845" fill="#000" stroke="#000" stroke-width="0.25" font-size="9.8" text-rendering="geometricPrecision" textLength="53.99" lengthAdjust="spacingAndGlyphs" >28 Apr 08:00</text><text x="260" y="845" fill="#000" stroke="#000" stroke-width="0.25" font-size="9.8" text-rendering="geometricPrecision" textLength="52.39" lengthAdjust="spacingAndGlyphs" >1 May 00:00</text><text x="324" y="845" fill="#000" stroke="#000" stroke-width="0.25" font-size="9.8" text-rendering="geometricPrecision" textLength="52.39" lengthAdjust="spacingAndGlyphs" >1 May 16:00</text><text x="388" y="845" fill="#000" stroke="#000" stroke-width="0.25" font-size="9.8" text-rendering="geometricPrecision" textLength="52.39" lengthAdjust="spacingAndGlyphs" >2 May 08:00</text><text x="452" y="845" fill="#000" stroke="#000" stroke-width="0.25" font-size="9.8" text-rendering="geometricPrecision" textLength="52.39" lengthAdjust="spacingAndGlyphs" >3 May 00:00</text><text x="516" y="845" fill="#000" stroke="#000" stroke-width="0.25" font-size="9.8" text-rendering="geometricPrecision" textLength="52.39" lengthAdjust="spacingAndGlyphs" >3 May 16:00</text><text x="580" y="845" fill="#000" stroke="#000" stroke-width="0.25" font-size="9.8" text-rendering="geometricPrecision" textLength="52.39" lengthAdjust="spacingAndGlyphs" >4 May 08:00</text><text x="644" y="845" fill="#000" stroke="#000" stroke-width="0.25" font-size="9.8" text-rendering="geometricPrecision" textLength="52.39" lengthAdjust="spacingAndGlyphs" >5 May 00:00</text><text x="708" y="845" fill="#000" stroke="#000" stroke-width="0.25" font-size="9.8" text-rendering="geometricPrecision" textLength="52.39" lengthAdjust="spacingAndGlyphs" >5 May 16:00</text><text x="772" y="845" fill="#000" stroke="#000" stroke-width="0.25" font-size="9.8" text-rendering="geometricPrecision" textLength="52.39" lengthAdjust="spacingAndGlyphs" >8 May 08:00</text><text x="836" y="845" fill="#000" stroke="#000" stroke-width="0.25" font-size="9.8" text-rendering="geometricPrecision" textLength="52.39" lengthAdjust="spacingAndGlyphs" >9 May 00:00</text><text x="900" y="845" fill="#000" stroke="#000" stroke-width="0.25" font-size="9.8" text-rendering="geometricPrecision" textLength="52.39" lengthAdjust="spacingAndGlyphs" >9 May 16:00</text><text x="964" y="845" fill="#000" stroke="#000" stroke-width="0.25" font-size="9.8" text-rendering="geometricPrecision" textLength="57.69" lengthAdjust="spacingAndGlyphs" >10 May 08:00</text><text x="1028" y="845" fill="#000" stroke="#000" stroke-width="0.25" font-size="9.8" text-rendering="geometricPrecision" textLength="56.98" lengthAdjust="spacingAndGlyphs" >11 May 00:00</text><text x="1092" y="845" fill="#000" stroke="#000" stroke-width="0.25" font-size="9.8" text-rendering="geometricPrecision" textLength="56.98" lengthAdjust="spacingAndGlyphs" >11 May 16:00</text><text x="1156" y="845" fill="#000" stroke="#000" stroke-width="0.25" font-size="9.8" text-rendering="geometricPrecision" textLength="57.69" lengthAdjust="spacingAndGlyphs" >12 May 08:00</text><text x="1220" y="845" fill="#000" stroke="#000" stroke-width="0.25" font-size="9.8" text-rendering="geometricPrecision" textLength="57.69" lengthAdjust="spacingAndGlyphs" >15 May 00:00</text><text x="1284" y="845" fill="#000" stroke="#000" stroke-width="0.25" font-size="9.8" text-rendering="geometricPrecision" textLength="57.69" lengthAdjust="spacingAndGlyphs" >15 May 16:00</text></svg>
<svg width="1692" height="24" style="position:absolute;left:0;top:0" font-family='"Liberation Sans", sans-serif'>
<rect x="0" y="0" width="1692" height="21" fill="#f0f0f0"/>
<rect x="0" y="21" width="1691" height="1" fill="#e4e4e4"/>
<rect x="0" y="22" width="1691" height="1" fill="#a0a0a0"/>
<rect x="0" y="23" width="1691" height="1" fill="#6a6a6a"/>
<defs><pattern id="chk" width="2" height="2" patternUnits="userSpaceOnUse"><rect width="2" height="2" fill="#f4f4f4"/><rect width="1" height="1" fill="#fdfdfd"/><rect x="1" y="1" width="1" height="1" fill="#fdfdfd"/></pattern><linearGradient id="gplus" x1="0" y1="0" x2="0" y2="1"><stop offset="0" stop-color="#9dff9d"/><stop offset="1" stop-color="#00c81e"/></linearGradient><linearGradient id="ggold" x1="0" y1="0" x2="1" y2="1"><stop offset="0" stop-color="#fff4a0"/><stop offset="0.5" stop-color="#e6b41e"/><stop offset="1" stop-color="#c8901a"/></linearGradient><radialGradient id="gclock" cx="0.4" cy="0.35" r="0.7"><stop offset="0" stop-color="#6cc4ff"/><stop offset="1" stop-color="#0b4fb0"/></radialGradient></defs><g shape-rendering="crispEdges"><rect x="5" y="0" width="1" height="20" fill="#a0a0a0"/><path d="M15.5 2.5H23.5L26.5 5.5V15.5H15.5Z" fill="#fff" stroke="#707070"/><path d="M23.5 2.5V5.5H26.5" fill="#d8d8d8" stroke="#707070"/><rect x="17" y="4" width="3" height="2" fill="#8a8a8a"/><rect x="17" y="8" width="6" height="1" fill="#8a8a8a"/><rect x="17" y="10" width="5" height="1" fill="#8a8a8a"/><rect x="17" y="12" width="3" height="1" fill="#8a8a8a"/><path d="M23.5 8.5H26.5V12.5H30.5V15.5H26.5V19.5H23.5V15.5H19.5V12.5H23.5Z" fill="url(#gplus)" stroke="#008a00"/></g><path d="M37.5 3L37.5 4.5M34.5 4.5L40.5 4.5M35.5 5.5L36.5 6.5M39.5 5.5L38.5 6.5M34 7.5L41 7.5M37.5 7.5L37.5 14M34.5 9.5L40.5 9.5M37 10.5L34.5 13M38 10.5L40.5 12.5M46 3.5L42.5 5M42.5 5L42.5 10M42.5 10L41.5 14M42.5 7.5L46.5 7.5M44.5 7.5L44.5 14M48 3.5L49.5 5M47.5 7.5L49.5 7.5M49.5 7.5L49.5 13M49.5 13L51 11.5M51 4.5L58 4.5M54.5 4.5L54.5 13.5M54.5 13.5L52.5 13.5M61 3L62 4.5M67 3L66 4.5M59.5 5.5L68.5 5.5M59.5 7.5L68.5 7.5M59.5 9.5L68.5 9.5M59.5 5.5L59.5 9.5M68.5 5.5L68.5 9.5M64 5.5L64 14M57.5 11.5L70 11.5M192.5 2.5L191.5 4.5M188.5 4.5L197.5 4.5M188.5 4.5L188.5 14M197.5 4.5L197.5 14M188.5 7.5L197.5 7.5M188.5 10.5L197.5 10.5M188.5 13.5L197.5 13.5M199.5 4.5L204.5 4.5M199 7.5L205 7.5M201.5 8L199.5 13M199.5 13L205 12M203.5 10L205 12.5M205 6.5L209.5 6.5M209.5 6.5L209.5 13.5M209.5 13.5L208 13.5M207.5 3L207 9M207 9L204.5 14M216.5 2.5L216.5 4M211 4.5L222 4.5M214 6L212.5 8M219 6L220.5 8M213.5 9L221.5 14M219.5 9L211.5 14M225.5 3.5L232.5 3.5M225.5 3.5L225.5 8.5M232.5 3.5L232.5 8.5M225.5 5.5L232.5 5.5M225.5 8.5L232.5 8.5M226 9.5L223.5 12M225 10.5L233.5 10.5M233.5 10.5L232.5 14M232.5 14L231 13.5M228 11L225.5 14M230.5 11L227.5 14" stroke="#111" stroke-width="1.1" fill="none" shape-rendering="auto"/><polygon points="87.5,3 97,9.5 97.5,12.5 90,17.5 82,12" fill="url(#ggold)" stroke="#a06800" stroke-width="1" shape-rendering="auto"/><polyline points="83,12.5 90,16 97,11" fill="none" stroke="#fff0b0" stroke-width="1" shape-rendering="auto"/><g shape-rendering="auto"><path d="M112 2.5H121L124 5V11H112Z" fill="#1e90ff" stroke="#1070d0" stroke-width="0.8"/><path d="M112.5 3L115 5.5V11" fill="none" stroke="#bfe6ff" stroke-width="0.8"/><rect x="117" y="6.5" width="5" height="1.2" fill="#e0f3ff"/><path d="M111 17.5H125Q127 17.5 126 14.5Q125 12 123 12.5Q121.5 10 119 10.5Q117 9.5 115.5 11.5Q113 11 112.5 13.5Q110 14 110.5 16Q110.5 17.5 111 17.5Z" fill="#dfe4ee" stroke="#4d5f8c" stroke-width="1"/></g><g shape-rendering="auto" fill="none"><circle cx="146" cy="10" r="7.5" stroke="#5a86d6" stroke-width="1"/><circle cx="146" cy="10" r="4.5" stroke="#7aa0de" stroke-width="1"/><path d="M146 2.5A7.5 7.5 0 0 1 146 17.5" stroke="#5aa86a" stroke-width="1.2"/><path d="M146 5.5A4.5 4.5 0 0 1 146 14.5" stroke="#8cc48c" stroke-width="1"/><circle cx="146" cy="10" r="1.8" fill="#2a5ed0"/><path d="M146.5 10V17.5" stroke="#1ea01e" stroke-width="1.6"/></g><g shape-rendering="auto"><polygon points="165.5,9 180,8.5 178,14 172,17.5 168,14" fill="#f2d84a" stroke="#c8a020" stroke-width="0.8"/><path d="M165 8.5Q166 6 169 5.5Q170 2 173.5 2.5Q177 2.5 177 5Q181 5 181 7Q180 9 175 9.5Q169 10 165 8.5Z" fill="#6cbbe6" stroke="#2a8ab8" stroke-width="0.9"/><circle cx="177.5" cy="13.8" r="4.2" fill="#e8321c" stroke="#b01a08" stroke-width="0.8"/><rect x="176" y="12.3" width="3" height="3" fill="#fff"/></g><g shape-rendering="crispEdges"><rect x="241" y="0" width="1" height="21" fill="#a0a0a0"/><rect x="242" y="0" width="1" height="21" fill="#ffffff"/><rect x="245" y="0" width="3" height="1" fill="#8a8a8a"/><rect x="245" y="1" width="3" height="1" fill="#fcfcfc"/><rect x="245" y="2" width="3" height="1" fill="#8a8a8a"/><rect x="245" y="3" width="3" height="1" fill="#fcfcfc"/><rect x="245" y="4" width="3" height="1" fill="#8a8a8a"/><rect x="245" y="5" width="3" height="1" fill="#fcfcfc"/><rect x="245" y="6" width="3" height="1" fill="#8a8a8a"/><rect x="245" y="7" width="3" height="1" fill="#fcfcfc"/><rect x="245" y="8" width="3" height="1" fill="#8a8a8a"/><rect x="245" y="9" width="3" height="1" fill="#fcfcfc"/><rect x="245" y="10" width="3" height="1" fill="#8a8a8a"/><rect x="245" y="11" width="3" height="1" fill="#fcfcfc"/><rect x="245" y="12" width="3" height="1" fill="#8a8a8a"/><rect x="245" y="13" width="3" height="1" fill="#fcfcfc"/><rect x="245" y="14" width="3" height="1" fill="#8a8a8a"/><rect x="245" y="15" width="3" height="1" fill="#fcfcfc"/><rect x="245" y="16" width="3" height="1" fill="#8a8a8a"/><rect x="245" y="17" width="3" height="1" fill="#fcfcfc"/><rect x="245" y="18" width="3" height="1" fill="#8a8a8a"/><rect x="245" y="19" width="3" height="1" fill="#fcfcfc"/><rect x="259" y="4" width="1" height="14" fill="#555555"/><rect x="258" y="5" width="3" height="1" fill="#555555"/><rect x="257" y="15" width="14" height="1" fill="#555555"/><rect x="269" y="14" width="1" height="3" fill="#555555"/><rect x="265" y="5" width="1" height="9" fill="#0a8a0a"/><rect x="263" y="12" width="2" height="1" fill="#0a8a0a"/><rect x="266" y="6" width="2" height="1" fill="#0a8a0a"/><rect x="279" y="0" width="1" height="20" fill="#a0a0a0"/><rect x="280" y="0" width="25" height="20" fill="url(#chk)"/><rect x="280" y="20" width="26" height="1" fill="#fff"/><rect x="305" y="0" width="1" height="20" fill="#fff"/><rect x="287" y="4" width="1" height="14" fill="#555555"/><rect x="286" y="5" width="3" height="1" fill="#555555"/><rect x="285" y="15" width="14" height="1" fill="#555555"/><rect x="297" y="14" width="1" height="3" fill="#555555"/><rect x="293" y="2" width="1" height="12" fill="#008a00"/><rect x="291" y="4" width="5" height="8" fill="#008a00"/><rect x="292" y="5" width="3" height="6" fill="#7dff8a"/><rect x="315" y="4" width="1" height="14" fill="#555555"/><rect x="314" y="5" width="3" height="1" fill="#555555"/><rect x="313" y="15" width="14" height="1" fill="#555555"/><rect x="325" y="14" width="1" height="3" fill="#555555"/></g><path d="M314 12.5Q318 6 320 7.5Q322 7.5 325.5 11" fill="none" stroke="#1a8a1a" stroke-width="1.2"/><g shape-rendering="crispEdges"><rect x="336" y="0" width="1" height="20" fill="#a0a0a0"/></g><g shape-rendering="auto"><line x1="355.5" y1="12" x2="360" y2="16.5" stroke="#b88a00" stroke-width="3.2"/><line x1="355.5" y1="12" x2="360" y2="16.5" stroke="#f0dc50" stroke-width="1.6"/><circle cx="351" cy="8" r="5.6" fill="#e0f6ff" stroke="#3b7cc4" stroke-width="1.2"/><rect x="347.5" y="7" width="7" height="2" fill="#4a8db0"/><rect x="350" y="4.5" width="2" height="7" fill="#4a8db0"/></g><g shape-rendering="auto"><line x1="383.5" y1="12" x2="388" y2="16.5" stroke="#b88a00" stroke-width="3.2"/><line x1="383.5" y1="12" x2="388" y2="16.5" stroke="#f0dc50" stroke-width="1.6"/><circle cx="379" cy="8" r="5.6" fill="#e0f6ff" stroke="#3b7cc4" stroke-width="1.2"/><rect x="375.5" y="7" width="7" height="2" fill="#4a8db0"/></g><g shape-rendering="crispEdges"><rect x="401" y="2" width="8" height="8" fill="#3aa01a"/><rect x="402" y="5" width="6" height="3" fill="#fff"/><rect x="402" y="8" width="1" height="1" fill="#fff"/><rect x="407" y="8" width="1" height="1" fill="#fff"/><rect x="402" y="3" width="1" height="1" fill="#cfe8cf"/><rect x="409" y="2" width="8" height="8" fill="#2058d0"/><rect x="410" y="5" width="6" height="3" fill="#fff"/><rect x="410" y="8" width="1" height="1" fill="#fff"/><rect x="415" y="8" width="1" height="1" fill="#fff"/><rect x="410" y="3" width="1" height="1" fill="#cfe8cf"/><rect x="401" y="10" width="8" height="8" fill="#2058d0"/><rect x="402" y="13" width="6" height="3" fill="#fff"/><rect x="402" y="16" width="1" height="1" fill="#fff"/><rect x="407" y="16" width="1" height="1" fill="#fff"/><rect x="402" y="11" width="1" height="1" fill="#cfe8cf"/><rect x="409" y="10" width="8" height="8" fill="#3aa01a"/><rect x="410" y="13" width="6" height="3" fill="#fff"/><rect x="410" y="16" width="1" height="1" fill="#fff"/><rect x="415" y="16" width="1" height="1" fill="#fff"/><rect x="410" y="11" width="1" height="1" fill="#cfe8cf"/><rect x="426" y="0" width="1" height="20" fill="#a0a0a0"/><rect x="431" y="0" width="1" height="20" fill="#a0a0a0"/><rect x="432" y="0" width="25" height="20" fill="url(#chk)"/><rect x="432" y="20" width="26" height="1" fill="#fff"/><rect x="457" y="0" width="1" height="20" fill="#fff"/><rect x="439" y="4" width="1" height="14" fill="#555555"/><rect x="438" y="5" width="3" height="1" fill="#555555"/><rect x="437" y="15" width="15" height="1" fill="#555555"/><rect x="450" y="14" width="1" height="3" fill="#555555"/></g><polygon points="444,6 448.5,9.5 444,13" fill="#7be08a" stroke="#0a9a0a" stroke-width="1" shape-rendering="auto"/><g shape-rendering="crispEdges"><rect x="459" y="0" width="1" height="20" fill="#a0a0a0"/><rect x="460" y="0" width="25" height="20" fill="url(#chk)"/><rect x="460" y="20" width="26" height="1" fill="#fff"/><rect x="485" y="0" width="1" height="20" fill="#fff"/><rect x="467" y="4" width="1" height="14" fill="#555555"/><rect x="466" y="5" width="3" height="1" fill="#555555"/><rect x="465" y="15" width="15" height="1" fill="#555555"/><rect x="478" y="14" width="1" height="3" fill="#555555"/><rect x="473" y="4" width="1" height="10" fill="#1a6a9a"/></g><polygon points="474,9.5 477,7 476.5,9 479.5,9 479.5,10 476.5,10 477,12" fill="#e85a10" stroke="#8a2a00" stroke-width="0.5" shape-rendering="auto"/><g shape-rendering="crispEdges"><rect x="488" y="0" width="1" height="20" fill="#a0a0a0"/><path d="M498.5 2.5H506.5L509.5 5.5V15.5H498.5Z" fill="#fff" stroke="#707070"/><path d="M506.5 2.5V5.5H509.5" fill="#d8d8d8" stroke="#707070"/></g><path d="M503.5 5Q501.5 5.5 501.5 8V12.5M500.5 8.5H503.5" fill="none" stroke="#333" stroke-width="1" shape-rendering="auto"/><path d="M506.5 8.5H509.5V12.5H513.5V15.5H509.5V19.5H506.5V15.5H502.5V12.5H506.5Z" fill="url(#gplus)" stroke="#008a00" shape-rendering="crispEdges"/><polygon points="520,9 525,9 522.5,12" fill="#000" shape-rendering="auto"/><g shape-rendering="auto"><circle cx="544" cy="10" r="7" fill="none" stroke="url(#gclock)" stroke-width="2.6"/><circle cx="544" cy="10" r="5.2" fill="#f8f8f8"/><path d="M543 6.5V10.5H546.5" fill="none" stroke="#111" stroke-width="1.2"/></g><polygon points="559,9 564,9 561.5,12" fill="#000" shape-rendering="auto"/><g shape-rendering="crispEdges"><rect x="575" y="3" width="16" height="14" fill="#3a7cc4"/><rect x="576" y="6" width="14" height="5" fill="#fff"/><rect x="576" y="12" width="14" height="4" fill="#fff"/><rect x="576" y="4" width="6" height="1" fill="#a8d0f0"/></g><polyline points="577,9.5 579.5,9.5 581,8.5 583,7.5 585,8.5 587,8.5 589,7.5" fill="none" stroke="#8a1a00" stroke-width="1.1" shape-rendering="auto"/><polyline points="578,14.5 580.5,13.5 582.5,14.5 584,13.5 586,12.5 588.5,14.5" fill="none" stroke="#0a8a1a" stroke-width="1.1" shape-rendering="auto"/><polygon points="598,9 603,9 600.5,12" fill="#000" shape-rendering="auto"/><g shape-rendering="crispEdges"><rect x="609" y="0" width="1" height="20" fill="#a0a0a0"/><rect x="613" y="0" width="3" height="1" fill="#8a8a8a"/><rect x="613" y="1" width="3" height="1" fill="#fcfcfc"/><rect x="613" y="2" width="3" height="1" fill="#8a8a8a"/><rect x="613" y="3" width="3" height="1" fill="#fcfcfc"/><rect x="613" y="4" width="3" height="1" fill="#8a8a8a"/><rect x="613" y="5" width="3" height="1" fill="#fcfcfc"/><rect x="613" y="6" width="3" height="1" fill="#8a8a8a"/><rect x="613" y="7" width="3" height="1" fill="#fcfcfc"/><rect x="613" y="8" width="3" height="1" fill="#8a8a8a"/><rect x="613" y="9" width="3" height="1" fill="#fcfcfc"/><rect x="613" y="10" width="3" height="1" fill="#8a8a8a"/><rect x="613" y="11" width="3" height="1" fill="#fcfcfc"/><rect x="613" y="12" width="3" height="1" fill="#8a8a8a"/><rect x="613" y="13" width="3" height="1" fill="#fcfcfc"/><rect x="613" y="14" width="3" height="1" fill="#8a8a8a"/><rect x="613" y="15" width="3" height="1" fill="#fcfcfc"/><rect x="613" y="16" width="3" height="1" fill="#8a8a8a"/><rect x="613" y="17" width="3" height="1" fill="#fcfcfc"/><rect x="613" y="18" width="3" height="1" fill="#8a8a8a"/><rect x="613" y="19" width="3" height="1" fill="#fcfcfc"/><rect x="619" y="0" width="1" height="20" fill="#a0a0a0"/><rect x="620" y="0" width="25" height="20" fill="url(#chk)"/><rect x="620" y="20" width="26" height="1" fill="#fff"/><rect x="645" y="0" width="1" height="20" fill="#fff"/></g><polygon points="627,3 635,10.5 631,10.8 633.5,16 631.5,17 629.3,11.8 627,14" fill="#505050" shape-rendering="auto"/><g shape-rendering="crispEdges"><rect x="659" y="3" width="1" height="6" fill="#444"/><rect x="659" y="12" width="1" height="6" fill="#444"/><rect x="652" y="10" width="6" height="1" fill="#444"/><rect x="661" y="10" width="6" height="1" fill="#444"/><rect x="676" y="0" width="1" height="20" fill="#a0a0a0"/><rect x="693" y="4" width="1" height="13" fill="#4a4a4a"/><rect x="716" y="10" width="12" height="1" fill="#4a4a4a"/></g><line x1="744" y1="16.5" x2="756" y2="4.5" stroke="#4a4a4a" stroke-width="1" shape-rendering="auto"/><g shape-rendering="auto" stroke="#444" fill="none"><line x1="769.8" y1="11.5" x2="777.8" y2="4.2" stroke-width="1"/><line x1="775.3" y1="16.6" x2="784.2" y2="8.2" stroke-width="1"/><path d="M771 15.5L782.5 7.5" stroke-width="1.3"/><path d="M772.3 9.5V16.5M775.4 8.5V13.5M778.6 6.2V13M781.5 2V9" stroke-width="1.3"/></g><text x="780.5" y="19" font-size="7" font-weight="bold" fill="#333" font-family='"Liberation Sans", sans-serif'>E</text><g shape-rendering="crispEdges"><rect x="799" y="3" width="1" height="1" fill="#333"/><rect x="801" y="3" width="1" height="1" fill="#333"/><rect x="803" y="3" width="1" height="1" fill="#333"/><rect x="805" y="3" width="1" height="1" fill="#333"/><rect x="807" y="3" width="1" height="1" fill="#333"/><rect x="809" y="3" width="1" height="1" fill="#333"/><rect x="811" y="3" width="1" height="1" fill="#333"/><rect x="799" y="6" width="1" height="1" fill="#333"/><rect x="801" y="6" width="1" height="1" fill="#333"/><rect x="803" y="6" width="1" height="1" fill="#333"/><rect x="805" y="6" width="1" height="1" fill="#333"/><rect x="807" y="6" width="1" height="1" fill="#333"/><rect x="809" y="6" width="1" height="1" fill="#333"/><rect x="811" y="6" width="1" height="1" fill="#333"/><rect x="799" y="10" width="1" height="1" fill="#333"/><rect x="801" y="10" width="1" height="1" fill="#333"/><rect x="803" y="10" width="1" height="1" fill="#333"/><rect x="805" y="10" width="1" height="1" fill="#333"/><rect x="807" y="10" width="1" height="1" fill="#333"/><rect x="809" y="10" width="1" height="1" fill="#333"/><rect x="811" y="10" width="1" height="1" fill="#333"/><rect x="799" y="14" width="1" height="1" fill="#333"/><rect x="801" y="14" width="1" height="1" fill="#333"/><rect x="803" y="14" width="1" height="1" fill="#333"/><rect x="805" y="14" width="1" height="1" fill="#333"/><rect x="807" y="14" width="1" height="1" fill="#333"/></g><text x="808.5" y="19" font-size="7" font-weight="bold" fill="#333" font-family='"Liberation Sans", sans-serif'>F</text><text x="829" y="15" font-size="11" fill="#444" font-family='"Liberation Sans", sans-serif'>A</text><g shape-rendering="crispEdges"><rect x="856" y="4" width="1" height="1" fill="#333"/><rect x="856" y="16" width="1" height="1" fill="#333"/><rect x="858" y="4" width="1" height="1" fill="#333"/><rect x="858" y="16" width="1" height="1" fill="#333"/><rect x="860" y="4" width="1" height="1" fill="#333"/><rect x="860" y="16" width="1" height="1" fill="#333"/><rect x="862" y="4" width="1" height="1" fill="#333"/><rect x="862" y="16" width="1" height="1" fill="#333"/><rect x="864" y="4" width="1" height="1" fill="#333"/><rect x="864" y="16" width="1" height="1" fill="#333"/><rect x="866" y="4" width="1" height="1" fill="#333"/><rect x="866" y="16" width="1" height="1" fill="#333"/><rect x="868" y="4" width="1" height="1" fill="#333"/><rect x="868" y="16" width="1" height="1" fill="#333"/><rect x="856" y="4" width="1" height="1" fill="#333"/><rect x="867" y="4" width="1" height="1" fill="#333"/><rect x="856" y="6" width="1" height="1" fill="#333"/><rect x="867" y="6" width="1" height="1" fill="#333"/><rect x="856" y="8" width="1" height="1" fill="#333"/><rect x="867" y="8" width="1" height="1" fill="#333"/><rect x="856" y="10" width="1" height="1" fill="#333"/><rect x="867" y="10" width="1" height="1" fill="#333"/><rect x="856" y="12" width="1" height="1" fill="#333"/><rect x="867" y="12" width="1" height="1" fill="#333"/><rect x="856" y="14" width="1" height="1" fill="#333"/><rect x="867" y="14" width="1" height="1" fill="#333"/><rect x="858" y="7" width="8" height="1" fill="#444"/><rect x="861" y="7" width="2" height="8" fill="#444"/><rect x="855" y="3" width="2" height="2" fill="#333"/></g><g shape-rendering="auto" fill="#444"><polygon points="882.9,7.6 886.5,3.9 890,7.6"/><rect x="885.2" y="7.5" width="2.6" height="1.3"/><polygon points="890,13.4 897,13.4 893.4,16.8"/><rect x="892.3" y="12.3" width="2.6" height="1.2"/><polyline points="885.2,11.3 887.5,13.6 891.9,8.2" fill="none" stroke="#444" stroke-width="1.3"/></g><polygon points="904,9 909,9 906.5,12" fill="#000" shape-rendering="auto"/><g shape-rendering="crispEdges"><rect x="915" y="0" width="1" height="21" fill="#a0a0a0"/><rect x="916" y="0" width="1" height="21" fill="#ffffff"/><rect x="919" y="0" width="3" height="1" fill="#8a8a8a"/><rect x="919" y="1" width="3" height="1" fill="#fcfcfc"/><rect x="919" y="2" width="3" height="1" fill="#8a8a8a"/><rect x="919" y="3" width="3" height="1" fill="#fcfcfc"/><rect x="919" y="4" width="3" height="1" fill="#8a8a8a"/><rect x="919" y="5" width="3" height="1" fill="#fcfcfc"/><rect x="919" y="6" width="3" height="1" fill="#8a8a8a"/><rect x="919" y="7" width="3" height="1" fill="#fcfcfc"/><rect x="919" y="8" width="3" height="1" fill="#8a8a8a"/><rect x="919" y="9" width="3" height="1" fill="#fcfcfc"/><rect x="919" y="10" width="3" height="1" fill="#8a8a8a"/><rect x="919" y="11" width="3" height="1" fill="#fcfcfc"/><rect x="919" y="12" width="3" height="1" fill="#8a8a8a"/><rect x="919" y="13" width="3" height="1" fill="#fcfcfc"/><rect x="919" y="14" width="3" height="1" fill="#8a8a8a"/><rect x="919" y="15" width="3" height="1" fill="#fcfcfc"/><rect x="919" y="16" width="3" height="1" fill="#8a8a8a"/><rect x="919" y="17" width="3" height="1" fill="#fcfcfc"/><rect x="919" y="18" width="3" height="1" fill="#8a8a8a"/><rect x="919" y="19" width="3" height="1" fill="#fcfcfc"/><rect x="1065" y="0" width="1" height="20" fill="#a0a0a0"/><rect x="1066" y="0" width="24" height="20" fill="url(#chk)"/><rect x="1066" y="20" width="25" height="1" fill="#fff"/><rect x="1090" y="0" width="1" height="20" fill="#fff"/><rect x="1176" y="0" width="1" height="21" fill="#a0a0a0"/><rect x="1177" y="0" width="1" height="21" fill="#ffffff"/></g><text x="931" y="13.9" font-size="9.8" fill="#2e2e2e" textLength="13.3" lengthAdjust="spacingAndGlyphs" font-family='"Liberation Sans", sans-serif'>M1</text><text x="959" y="13.9" font-size="9.8" fill="#2e2e2e" textLength="13" lengthAdjust="spacingAndGlyphs" font-family='"Liberation Sans", sans-serif'>M5</text><text x="985" y="13.9" font-size="9.8" fill="#2e2e2e" textLength="18" lengthAdjust="spacingAndGlyphs" font-family='"Liberation Sans", sans-serif'>M15</text><text x="1013" y="13.9" font-size="9.8" fill="#2e2e2e" textLength="18" lengthAdjust="spacingAndGlyphs" font-family='"Liberation Sans", sans-serif'>M30</text><text x="1044" y="13.9" font-size="9.8" fill="#2e2e2e" textLength="11.8" lengthAdjust="spacingAndGlyphs" font-family='"Liberation Sans", sans-serif'>H1</text><text x="1071" y="13.9" font-size="9.8" fill="#2e2e2e" textLength="12.8" lengthAdjust="spacingAndGlyphs" font-family='"Liberation Sans", sans-serif'>H4</text><text x="1099" y="13.9" font-size="9.8" fill="#2e2e2e" textLength="12.8" lengthAdjust="spacingAndGlyphs" font-family='"Liberation Sans", sans-serif'>D1</text><text x="1127" y="13.9" font-size="9.8" fill="#2e2e2e" textLength="14.8" lengthAdjust="spacingAndGlyphs" font-family='"Liberation Sans", sans-serif'>W1</text><text x="1154" y="13.9" font-size="9.8" fill="#2e2e2e" textLength="14.8" lengthAdjust="spacingAndGlyphs" font-family='"Liberation Sans", sans-serif'>MN</text><g shape-rendering="auto"><circle cx="1646.5" cy="7.5" r="3.8" fill="#f4f6ff" stroke="#2456d0" stroke-width="1.3"/><line x1="1643.8" y1="10.2" x2="1640" y2="14.5" stroke="#2456d0" stroke-width="2"/></g><g shape-rendering="auto"><ellipse cx="1669" cy="12.5" rx="5.5" ry="4.5" fill="#e4e6ee" stroke="#a8a8a8" stroke-width="0.9"/><polygon points="1666,16 1667,19 1669,16.5" fill="#a0a0a0"/><circle cx="1677.7" cy="7.6" r="8" fill="#e0341c"/><text x="1677.5" y="11.8" font-size="11" fill="#fff" text-anchor="middle" font-family="'Liberation Serif', serif">1</text></g>
</svg>
</div></body></html>
